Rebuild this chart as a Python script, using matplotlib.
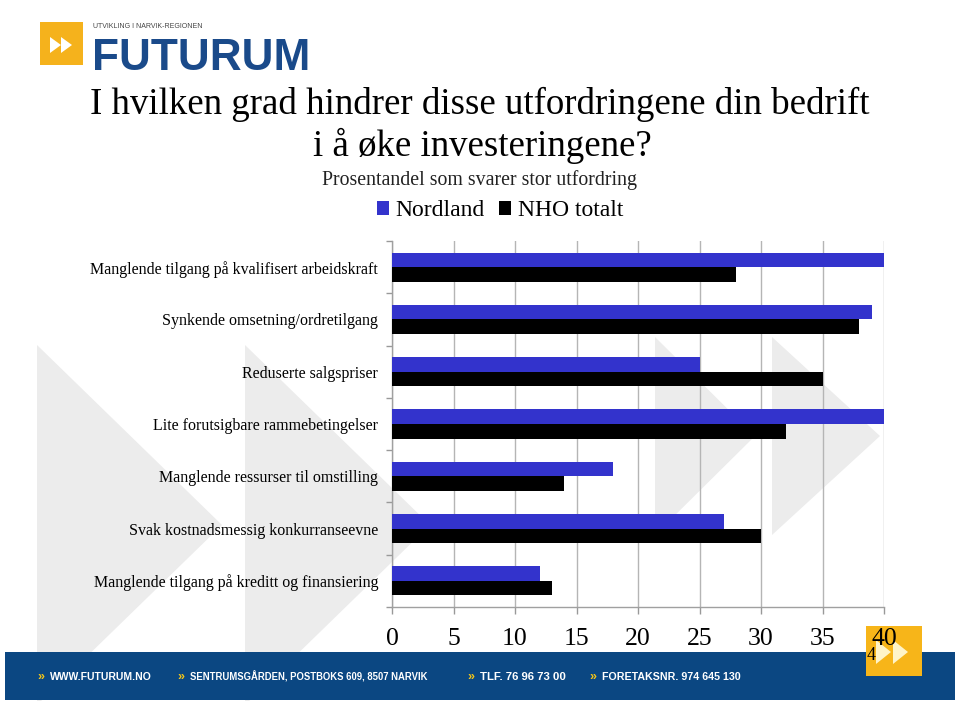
import matplotlib
matplotlib.use("Agg")
import matplotlib.pyplot as plt
from matplotlib.patches import Polygon, Rectangle
import numpy as np

plt.rcParams['font.family'] = ['Liberation Serif', 'DejaVu Serif']

categories = [
    "Manglende tilgang på kvalifisert arbeidskraft",
    "Synkende omsetning/ordretilgang",
    "Reduserte salgspriser",
    "Lite forutsigbare rammebetingelser",
    "Manglende ressurser til omstilling",
    "Svak kostnadsmessig konkurranseevne",
    "Manglende tilgang på kreditt og finansiering",
]
nordland = [40, 39, 25, 40, 18, 27, 12]
nho_totalt = [28, 38, 35, 32, 14, 30, 13]
series_names = ["Nordland", "NHO totalt"]
xticks = [0, 5, 10, 15, 20, 25, 30, 35, 40]

title1 = "I hvilken grad hindrer disse utfordringene din bedrift"
title2 = "i å øke investeringene?"
subtitle = "Prosentandel som svarer stor utfordring"
footer_items = ["WWW.FUTURUM.NO", "SENTRUMSGÅRDEN, POSTBOKS 609, 8507 NARVIK",
                "TLF. 76 96 73 00", "FORETAKSNR. 974 645 130"]

W, H = 960, 701
fig = plt.figure(figsize=(W / 100, H / 100), dpi=100)
fig.patch.set_facecolor("white")
renderer = fig.canvas.get_renderer()

def fit_width(t, target):
    bb = t.get_window_extent(renderer)
    t.set_fontsize(t.get_fontsize() * target / bb.width)

sans = ["Liberation Sans", "DejaVu Sans"]

# background / decoration axes in pixel coordinates
bg = fig.add_axes([0, 0, 1, 1], zorder=0)
bg.set_xlim(0, W)
bg.set_ylim(H, 0)
bg.axis("off")

wm = "#ececec"
for x0, top, wdt, half in [(37, 345, 185, 180), (245, 345, 185, 180),
                           (655, 337, 100, 99), (772, 337, 108, 99)]:
    bg.add_patch(Polygon([(x0, top), (x0 + wdt, top + half), (x0, top + 2 * half)],
                         closed=True, color=wm, lw=0, zorder=0))

# logo
bg.add_patch(Rectangle((40, 22), 43, 43, color="#f5b21c", lw=0, zorder=2))
for xs in (50, 61):
    bg.add_patch(Polygon([(xs, 37), (xs + 11, 45), (xs, 53)], closed=True,
                         color="white", lw=0, zorder=3))
t = bg.text(93, 27, "UTVIKLING I NARVIK-REGIONEN", fontsize=5, color="#444444",
            family=sans, va="center", ha="left", zorder=3)
fit_width(t, 110)
t = bg.text(92, 59, "FUTURUM", fontsize=40, fontweight="bold", color="#1a4a8a",
            family=sans, va="center", ha="left", zorder=3)
fit_width(t, 218)

# footer
bg.add_patch(Rectangle((5, 652), 950, 48, color="#0b4782", lw=0, zorder=2))
fx = [(37, 152), (177, 428), (467, 566), (589, 740)]
for (x, xe), txt in zip(fx, footer_items):
    bg.text(x, 677, "»", fontsize=9, color="#f5c518", fontweight="bold",
            family=sans, va="center", ha="left", zorder=3)
    t = bg.text(x + 13, 677, txt, fontsize=10, color="white", fontweight="bold",
                family=sans, va="center", ha="left", zorder=3)
    fit_width(t, xe - x - 13)
bg.add_patch(Rectangle((866, 626), 56, 50, color="#f7b519", lw=0, zorder=4))
for xs in (876, 893):
    bg.add_patch(Polygon([(xs, 640), (xs + 15, 652), (xs, 664)], closed=True,
                         color="#fff4c8", lw=0, zorder=5))
bg.text(871, 655, "4", fontsize=13, color="black", va="center", ha="center", zorder=6)

# titles
fig.text(480 / W, 1 - 104 / H, title1, fontsize=26.6, ha="center", va="center")
fig.text(482 / W, 1 - 146 / H, title2, fontsize=26.6, ha="center", va="center")
fig.text(480 / W, 1 - 180 / H, subtitle, fontsize=14.3, ha="center", va="center", color="#222222")

# main chart
ax = fig.add_axes([392 / W, 94 / H, 492 / W, 366 / H], zorder=2)
ax.patch.set_alpha(0)
y = np.arange(len(categories))
h = 0.28
ax.barh(y - h / 2, nordland, height=h, color="#3333cc", label=series_names[0], zorder=3)
ax.barh(y + h / 2, nho_totalt, height=h, color="black", label=series_names[1], zorder=3)
ax.set_xlim(0, 40)
ax.set_ylim(len(categories) - 0.5, -0.5)
ax.set_xticks(xticks)
ax.set_xticklabels([str(v) for v in xticks], fontsize=18.5)
ax.set_yticks(y)
ax.set_yticklabels(categories, fontsize=11.5)
ax.set_yticks(np.arange(-0.5, len(categories)), minor=True)
ax.tick_params(axis="y", which="major", length=0, pad=10)
ax.tick_params(axis="y", which="minor", length=4, color="#999999", width=1)
ax.tick_params(axis="x", length=5, color="#999999", width=1, pad=10)
ax.grid(axis="x", color="#b5b5b5", lw=1, zorder=1)
ax.set_axisbelow(True)
for s in ("top", "right"):
    ax.spines[s].set_visible(False)
for s in ("left", "bottom"):
    ax.spines[s].set_color("#a0a0a0")
    ax.spines[s].set_linewidth(1)

leg = ax.legend(ncol=2, loc="center", bbox_to_anchor=(500 / W, 1 - 211 / H),
                bbox_transform=fig.transFigure, frameon=False, fontsize=17,
                handlelength=0.5, handleheight=0.5, handletextpad=0.3,
                columnspacing=0.6, borderpad=0)

fig.savefig("out.png", dpi=100)
